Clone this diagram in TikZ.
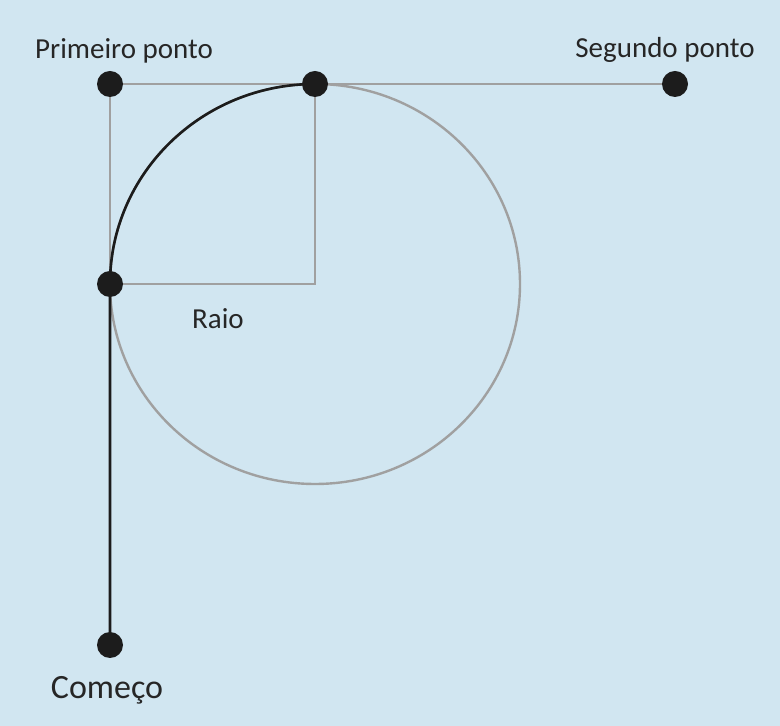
\documentclass[tikz,border=0pt]{standalone}
\usepackage{fontspec}
\setmainfont{Carlito}
\usepackage{tikz}
\usetikzlibrary{positioning,backgrounds}
\definecolor{bgBlue}{HTML}{D1E6F1}
\definecolor{lnGrey}{HTML}{A0A0A0}
\definecolor{dotInk}{HTML}{1C1C1C}

\begin{document}
\begin{tikzpicture}[x=1pt,y=1pt,font=\fontsize{29}{34}\selectfont,
  dot/.style={circle,fill=dotInk,inner sep=0pt,minimum size=26pt},
  lbl/.style={text=black!85,inner sep=0pt},
  g/.style={lnGrey,line width=2.4pt},
  b/.style={dotInk,line width=2.6pt}]
\useasboundingbox (0,0) rectangle (780,726);
\begin{scope}[on background layer]
\fill[bgBlue] (0,0) rectangle (780,726);
\end{scope}
\node[dot] (first) at (110,642) {};
\node[dot] (tang) at (315,642) {};
\node[dot] (second) at (675,642) {};
\node[dot] (left) at (110,442) {};
\node[dot] (start) at (110,81) {};
\coordinate (ctr) at (315,442);
\node[lbl] (lfirst) at (124,675) {Primeiro ponto};
\node[lbl] (lsecond) at (665,676) {Segundo ponto};
\node[lbl] (lradius) at (218,407) {Raio};
\node[lbl,font=\fontsize{34}{40}\selectfont] (lstart) at (107,36) {Começo};
\begin{scope}[on background layer]
\draw[g] (first.center) -- (second.center);
\draw[g] (first.center) -- (left.center);
\draw[g] (tang.center) -- (ctr) -- (left.center);
\draw[g] (ctr) ellipse[x radius=205,y radius=200];
\draw[b] (start.center) -- (left.center) arc[start angle=180,end angle=90,x radius=205,y radius=200];
\end{scope}
\end{tikzpicture}
\end{document}
